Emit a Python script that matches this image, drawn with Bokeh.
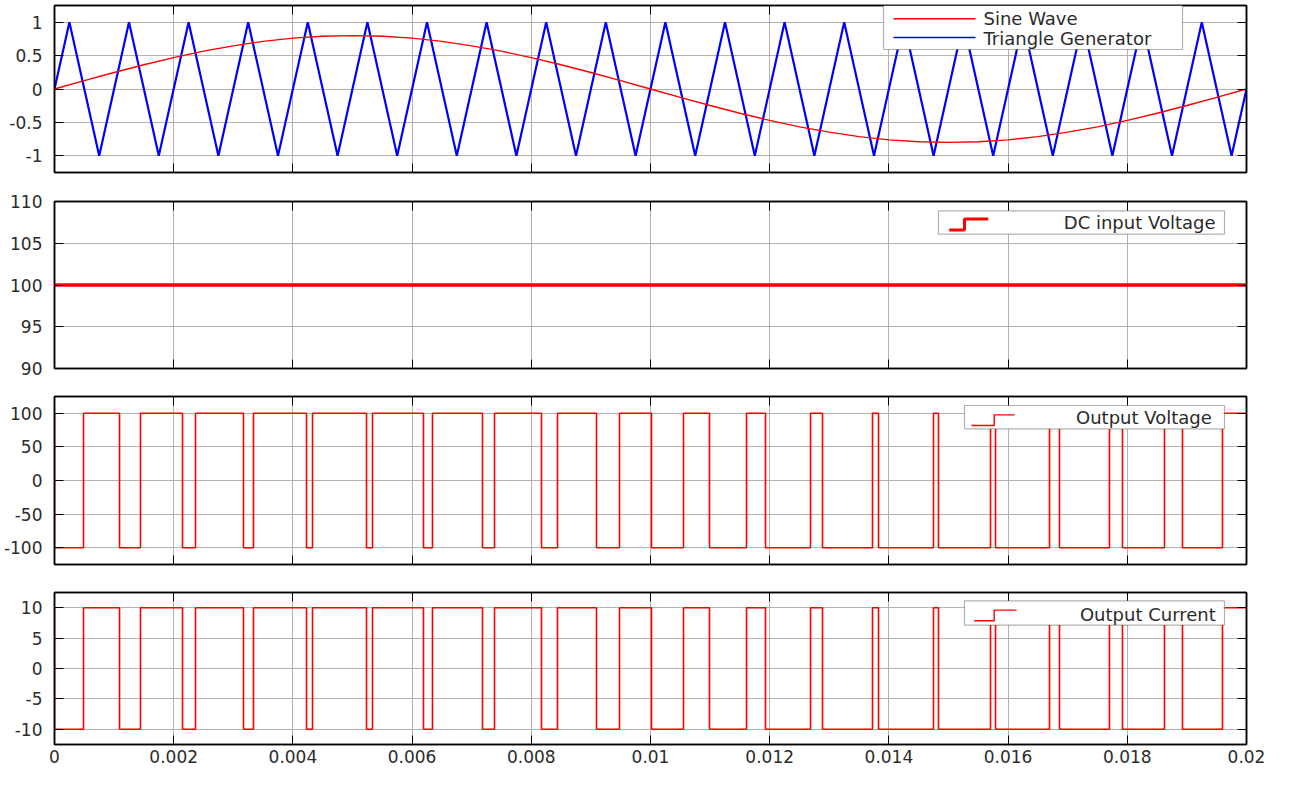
from bokeh.plotting import figure
from bokeh.layouts import column
from bokeh.models import (Range1d, FixedTicker, PrintfTickFormatter, LinearAxis,
                          BoxAnnotation, Label)
from bokeh.embed import file_html
from bokeh.resources import INLINE

# ---------------- data (times read in milliseconds) ----------------
x_ticks = [0, 0.002, 0.004, 0.006, 0.008, 0.01, 0.012, 0.014, 0.016, 0.018, 0.02]

sine_t_ms = [0, 0.5, 1.0, 1.5, 2.0, 2.5, 3.0, 3.5, 4.0, 4.5, 5.0, 5.5, 6.0, 6.5, 7.0,
             7.5, 8.0, 8.5, 9.0, 9.5, 10.0, 10.5, 11.0, 11.5, 12.0, 12.5, 13.0, 13.5,
             14.0, 14.5, 15.0, 15.5, 16.0, 16.5, 17.0, 17.5, 18.0, 18.5, 19.0, 19.5, 20.0]
sine_vals = [0.0, 0.125, 0.247, 0.363, 0.47, 0.566, 0.647, 0.713, 0.761, 0.79, 0.8,
             0.79, 0.761, 0.713, 0.647, 0.566, 0.47, 0.363, 0.247, 0.125, 0.0,
             -0.125, -0.247, -0.363, -0.47, -0.566, -0.647, -0.713, -0.761, -0.79, -0.8,
             -0.79, -0.761, -0.713, -0.647, -0.566, -0.47, -0.363, -0.247, -0.125, 0.0]

tri_t_ms = [0, 0.25, 0.75, 1.25, 1.75, 2.25, 2.75, 3.25, 3.75, 4.25, 4.75, 5.25, 5.75,
            6.25, 6.75, 7.25, 7.75, 8.25, 8.75, 9.25, 9.75, 10.25, 10.75, 11.25, 11.75,
            12.25, 12.75, 13.25, 13.75, 14.25, 14.75, 15.25, 15.75, 16.25, 16.75, 17.25,
            17.75, 18.25, 18.75, 19.25, 19.75, 20]
tri_vals = [0,
            1, -1, 1, -1, 1, -1, 1, -1, 1, -1,
            1, -1, 1, -1, 1, -1, 1, -1, 1, -1,
            1, -1, 1, -1, 1, -1, 1, -1, 1, -1,
            1, -1, 1, -1, 1, -1, 1, -1, 1, -1,
            0]

dc_t_ms = [0, 20]
dc_vals = [100, 100]

switch_t_ms = [0, 0, 0.487, 1.091, 1.443, 2.148, 2.366, 3.171, 3.339, 4.228, 4.329,
               5.235, 5.336, 6.191, 6.342, 7.181, 7.383, 8.171, 8.44, 9.094, 9.48,
               10.017, 10.554, 10.99, 11.611, 11.93, 12.685, 12.886, 13.725, 13.826,
               14.748, 14.832, 15.705, 15.789, 16.695, 16.862, 17.701, 17.919, 18.624,
               18.926, 19.597, 20.0]
vout_levels = [100, -100, 100, -100, 100, -100, 100, -100, 100, -100,
               100, -100, 100, -100, 100, -100, 100, -100, 100, -100,
               100, -100, 100, -100, 100, -100, 100, -100, 100, -100,
               100, -100, 100, -100, 100, -100, 100, -100, 100, -100,
               100, 100]
iout_levels = [10, -10, 10, -10, 10, -10, 10, -10, 10, -10,
               10, -10, 10, -10, 10, -10, 10, -10, 10, -10,
               10, -10, 10, -10, 10, -10, 10, -10, 10, -10,
               10, -10, 10, -10, 10, -10, 10, -10, 10, -10,
               10, 10]

y1_ticks = [-1, -0.5, 0, 0.5, 1]
y2_ticks = [90, 95, 100, 105, 110]
y3_ticks = [-100, -50, 0, 50, 100]
y4_ticks = [-10, -5, 0, 5, 10]

def sec(ms_list):
    return [v / 1000.0 for v in ms_list]

# ---------------- styling ----------------
FONT = "DejaVu Sans"
TXT = "#2b2b2b"
GRID = "#b3b3b3"
FW = 1192
X0, X1 = 0.0, 0.02


def style_axis(ax, ticks, show_labels, standoff=0):
    ax.ticker = FixedTicker(ticks=ticks)
    ax.major_tick_in = 9
    ax.major_tick_out = 0
    ax.minor_tick_in = 0
    ax.minor_tick_out = 0
    ax.major_tick_line_color = "black"
    ax.major_tick_line_width = 1
    ax.axis_line_color = "black"
    ax.axis_line_width = 1.5
    if show_labels:
        ax.formatter = PrintfTickFormatter(format="%g")
        ax.major_label_text_font = FONT
        ax.major_label_text_font_size = "17px"
        ax.major_label_text_color = TXT
        ax.major_label_standoff = standoff
    else:
        ax.formatter = PrintfTickFormatter(format="")
        ax.major_label_text_font_size = "0px"
        ax.major_label_standoff = 0


def make_fig(y0, y1, yticks, fh, top, bottom, show_x):
    p = figure(frame_width=FW, frame_height=fh, title=None,
               x_range=Range1d(X0, X1), y_range=Range1d(y0, y1),
               output_backend="svg", toolbar_location=None,
               min_border_left=54, min_border_right=21,
               min_border_top=top, min_border_bottom=bottom)
    p.background_fill_color = "white"
    p.border_fill_color = "white"
    p.outline_line_color = "black"
    p.outline_line_width = 1.5
    style_axis(p.xaxis[0], x_ticks, show_x, 5)
    style_axis(p.yaxis[0], yticks, True, 12)
    ax_top = LinearAxis()
    style_axis(ax_top, x_ticks, False)
    p.add_layout(ax_top, "above")
    ax_right = LinearAxis()
    style_axis(ax_right, yticks, False)
    p.add_layout(ax_right, "right")
    p.xgrid.ticker = FixedTicker(ticks=x_ticks)
    p.ygrid.ticker = FixedTicker(ticks=yticks)
    p.xgrid.grid_line_color = GRID
    p.ygrid.grid_line_color = GRID
    p.xgrid.grid_line_width = 1
    p.ygrid.grid_line_width = 1
    return p


def fx(px):
    return X0 + px / FW * (X1 - X0)


def fy(py, y0, y1, fh):
    return y1 - py / fh * (y1 - y0)


def legend_box(p, y0, y1, fh, l, r, t, b):
    p.add_layout(BoxAnnotation(left=fx(l), right=fx(r), top=fy(t, y0, y1, fh),
                               bottom=fy(b, y0, y1, fh), fill_color="white",
                               fill_alpha=1.0, line_color="black", line_width=1.2))


def legend_text(p, y0, y1, fh, px, py, text, align):
    p.add_layout(Label(x=fx(px), y=fy(py, y0, y1, fh), text=text, text_align=align,
                       text_baseline="middle", text_font=FONT, text_font_size="18px",
                       text_color=TXT, level="overlay"))


def legend_step(p, y0, y1, fh, xa, xs, xb, ylo, yhi, lw):
    p.line(x=[fx(xa), fx(xs), fx(xs), fx(xb)],
           y=[fy(ylo, y0, y1, fh), fy(ylo, y0, y1, fh), fy(yhi, y0, y1, fh), fy(yhi, y0, y1, fh)],
           line_color="#ff0000", line_width=lw, level="overlay")


# ---------------- plot 1: sine & triangle ----------------
A0, A1, H1 = -1.25, 1.25, 167
p1 = make_fig(A0, A1, y1_ticks, H1, 5, 15, False)
p1.line(sec(tri_t_ms), tri_vals, line_color="#0000ff", line_width=2.2)
p1.line(sec(sine_t_ms), sine_vals, line_color="#ff0000", line_width=1.3)
legend_box(p1, A0, A1, H1, 829, 1128, 0, 44)
p1.line(x=[fx(839), fx(921)], y=[fy(13.3, A0, A1, H1)] * 2, line_color="#ff0000",
        line_width=1.4, level="overlay")
p1.line(x=[fx(839), fx(921)], y=[fy(32.0, A0, A1, H1)] * 2, line_color="#0000ff",
        line_width=1.4, level="overlay")
legend_text(p1, A0, A1, H1, 929, 13.3, "Sine Wave", "left")
legend_text(p1, A0, A1, H1, 929, 32.5, "Triangle Generator", "left")

# ---------------- plot 2: DC input voltage ----------------
B0, B1, H2 = 90, 110, 167
p2 = make_fig(B0, B1, y2_ticks, H2, 14, 14, False)
p2.line(sec(dc_t_ms), dc_vals, line_color="#ff0000", line_width=3.5)
legend_box(p2, B0, B1, H2, 884, 1170, 9.4, 32.7)
legend_step(p2, B0, B1, H2, 894.7, 910, 933.7, 28.4, 17.4, 3)
legend_text(p2, B0, B1, H2, 1161, 20.7, "DC input Voltage", "right")

# ---------------- plot 3: output voltage ----------------
C0, C1, H3 = -125, 125, 168
p3 = make_fig(C0, C1, y3_ticks, H3, 14, 14, False)
p3.step(sec(switch_t_ms), vout_levels, mode="after", line_color="#ff0000", line_width=1.6)
legend_box(p3, C0, C1, H3, 910, 1170, 9.0, 32.4)
legend_step(p3, C0, C1, H3, 917, 939.7, 960, 29.0, 18.4, 1.4)
legend_text(p3, C0, C1, H3, 1157.3, 21.3, "Output Voltage", "right")

# ---------------- plot 4: output current ----------------
D0, D1, H4 = -12.5, 12.5, 152
p4 = make_fig(D0, D1, y4_ticks, H4, 14, 5, True)
p4.step(sec(switch_t_ms), iout_levels, mode="after", line_color="#ff0000", line_width=1.6)
legend_box(p4, D0, D1, H4, 910, 1170, 8.3, 32.6)
legend_step(p4, D0, D1, H4, 919.7, 939.7, 962, 28.3, 17.6, 1.4)
legend_text(p4, D0, D1, H4, 1161.3, 22.0, "Output Current", "right")

layout = column(p1, p2, p3, p4, spacing=0)
open("out.html", "w").write(file_html(layout, INLINE))
